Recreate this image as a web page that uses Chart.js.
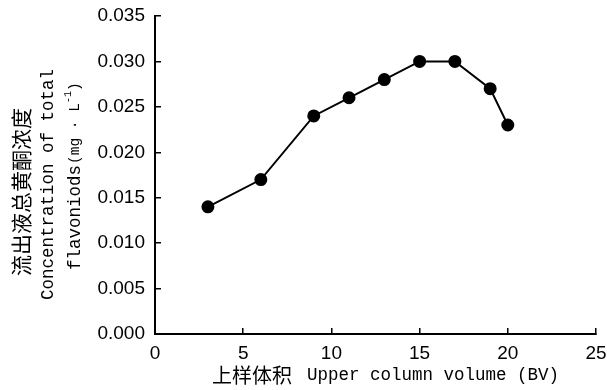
<!DOCTYPE html>
<html>
<head>
<meta charset="utf-8">
<script src="https://cdn.jsdelivr.net/npm/chart.js@4/dist/chart.umd.min.js"></script>
<style>
  html, body { margin: 0; padding: 0; background: #fff; }
  #wrap { width: 607px; height: 390px; }
</style>
</head>
<body>
<div id="wrap"><canvas id="c" width="607" height="390"></canvas></div>
<script>
// ---- data ----
const volumes = [3, 6, 9, 11, 13, 15, 17, 19, 20];            // BV
const concentrations = [0.014, 0.017, 0.024, 0.026, 0.028, 0.030, 0.030, 0.027, 0.023];
const xTicks = [0, 5, 10, 15, 20, 25];
const yTicks = [0, 0.005, 0.010, 0.015, 0.020, 0.025, 0.030, 0.035];
const yTitleCn = '流出液总黄酮浓度';
const yTitleEn1 = 'Concentration of total';
const yTitleEn2 = 'flavoniods';
const yTitleUnit = '(mg · L';
const yTitleSup = '-1';
const xTitleCn = '上样体积';
const xTitleEn = 'Upper column volume (BV)';

const MONO = "'Liberation Mono', 'DejaVu Sans Mono', monospace";
const SANS = "'Liberation Sans', Arial, sans-serif";
const CJK = "'Noto Sans CJK SC', sans-serif";

function drawRuns(ctx, runs, x, y, rotate) {
  ctx.save();
  ctx.translate(x, y);
  if (rotate) ctx.rotate(-Math.PI / 2);
  ctx.textAlign = 'left';
  ctx.textBaseline = 'middle';
  ctx.fillStyle = '#000';
  let pos = 0;
  for (const r of runs) {
    ctx.font = r.font;
    pos += r.dx || 0;
    ctx.fillText(r.text, pos, r.dy || 0);
    pos += ctx.measureText(r.text).width;
  }
  ctx.restore();
}

const titlePlugin = {
  id: 'axisTitles',
  afterDraw(chart) {
    const ctx = chart.ctx;
    // y-axis title (three rotated lines)
    drawRuns(ctx, [{text: yTitleCn, font: '21px ' + CJK}], 21, 276, true);
    drawRuns(ctx, [{text: yTitleEn1, font: '17.5px ' + MONO}], 48, 300, true);
    drawRuns(ctx, [
      {text: yTitleEn2, font: '17.5px ' + MONO},
      {text: yTitleUnit, font: '14.5px ' + MONO, dx: 1},
      {text: yTitleSup, font: '10px ' + MONO, dy: -7},
      {text: ')', font: '14.5px ' + MONO}
    ], 75, 270, true);
    // x-axis title
    drawRuns(ctx, [
      {text: xTitleCn, font: '20px ' + CJK},
      {text: xTitleEn, font: '17.5px ' + MONO, dx: 15}
    ], 212, 375, false);
  }
};

new Chart(document.getElementById('c'), {
  type: 'scatter',
  data: {
    datasets: [{
      data: volumes.map((v, i) => ({x: v, y: concentrations[i]})),
      showLine: true,
      borderColor: '#000',
      borderWidth: 2,
      backgroundColor: '#000',
      pointBackgroundColor: '#000',
      pointBorderColor: '#000',
      pointRadius: 5.5,
      pointHoverRadius: 5.5,
      tension: 0
    }]
  },
  options: {
    responsive: false,
    animation: false,
    devicePixelRatio: 1,
    layout: { padding: { top: 16, right: 11, left: 0, bottom: 0 } },
    plugins: { legend: { display: false }, tooltip: { enabled: false } },
    scales: {
      x: {
        type: 'linear',
        min: 0, max: 25,
        afterBuildTicks: s => { s.ticks = xTicks.map(v => ({value: v})); },
        afterFit: s => { s.height = 56; s.paddingLeft = 0; s.paddingRight = 0; },
        border: { display: true, color: '#000', width: 2 },
        grid: { drawOnChartArea: false, drawTicks: true, tickLength: -6, color: '#000', lineWidth: 1.5 },
        ticks: { color: '#000', padding: 14, font: { family: SANS, size: 19 }, maxRotation: 0,
                 callback: v => String(v) }
      },
      y: {
        type: 'linear',
        min: 0, max: 0.035,
        afterBuildTicks: s => { s.ticks = yTicks.map(v => ({value: v})); },
        afterFit: s => { s.width = 155; s.paddingTop = 0; s.paddingBottom = 0; },
        border: { display: true, color: '#000', width: 2 },
        grid: { drawOnChartArea: false, drawTicks: true, tickLength: -6, color: '#000', lineWidth: 1.5 },
        ticks: { color: '#000', padding: 16, font: { family: SANS, size: 19 },
                 callback: v => Number(v).toFixed(3) }
      }
    }
  },
  plugins: [titlePlugin]
});
</script>
</body>
</html>
